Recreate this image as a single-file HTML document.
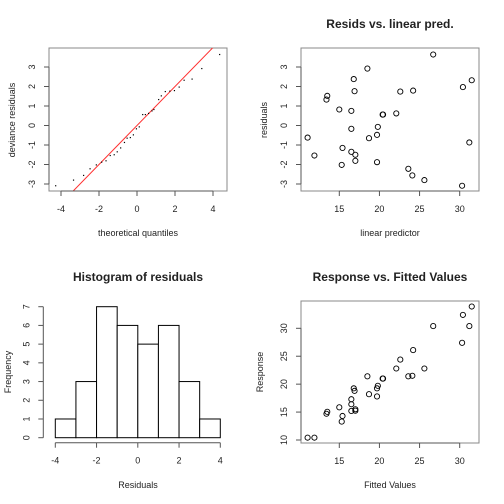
<!DOCTYPE html>
<html><head><meta charset="utf-8"><style>
html,body{margin:0;padding:0;background:#fff}
svg{display:block;font-family:"Liberation Sans",sans-serif}
</style></head><body>
<svg id="c" width="504" height="504" viewBox="0 0 504 504"></svg>
<script>
const fitted=[11.05,11.9,13.4,13.5,15.0,15.3,15.4,16.5,16.5,16.5,16.8,16.9,17.0,17.0,18.5,18.7,19.7,19.7,19.8,20.4,20.45,22.1,22.6,23.6,24.1,24.2,25.6,26.7,30.3,30.4,31.2,31.5];
const resids=[-0.62,-1.54,1.33,1.52,0.82,-2.02,-1.15,0.75,-0.17,-1.35,2.38,1.76,-1.5,-1.81,2.92,-0.65,-0.48,-1.88,-0.07,0.56,0.56,0.62,1.74,-2.22,-2.56,1.79,-2.8,3.64,-3.09,1.97,-0.87,2.32];
const response=[10.42,10.42,14.7,15.05,15.85,13.3,14.3,17.3,16.4,15.2,19.25,18.8,15.5,15.25,21.4,18.2,19.25,17.8,19.7,21.0,21.0,22.8,24.4,21.4,21.5,26.1,22.8,30.4,27.4,32.4,30.4,33.9];
const theoQ=[-4.28,-3.34,-2.81,-2.47,-2.14,-1.86,-1.63,-1.41,-1.2,-1.04,-0.86,-0.66,-0.52,-0.35,-0.19,-0.03,0.12,0.3,0.44,0.61,0.79,0.89,1.14,1.28,1.49,1.73,1.97,2.22,2.48,2.9,3.41,4.35];
const sortedRes=[-3.09,-2.8,-2.56,-2.22,-2.02,-1.88,-1.81,-1.54,-1.5,-1.35,-1.15,-0.87,-0.65,-0.62,-0.48,-0.17,-0.07,0.56,0.56,0.62,0.75,0.82,1.33,1.52,1.74,1.76,1.79,1.97,2.32,2.38,2.92,3.64];
const histBreaks=[-4,-3,-2,-1,0,1,2,3,4];
const histCounts=[1,3,7,6,5,6,3,1];
const qqXTicks=[-4,-2,0,2,4];
const resYTicks=[-3,-2,-1,0,1,2,3];
const fitXTicks=[15,20,25,30];
const respYTicks=[10,15,20,25,30];
const histXTicks=[-4,-2,0,2,4];
const histYTicks=[0,1,2,3,4,5,6,7];

const S=document.getElementById('c');const NS='http://www.w3.org/2000/svg';
function mk(t,a,p){const e=document.createElementNS(NS,t);for(const k in a)e.setAttribute(k,a[k]);(p||S).appendChild(e);return e;}
function txt(x,y,s,o){o=o||{};const e=mk('text',{x:x,y:y,'font-size':o.size||9,'text-anchor':'middle',fill:'#222','font-weight':o.bold?'bold':'normal'});if(o.rot)e.setAttribute('transform','rotate(-90 '+x+' '+y+')');e.textContent=s;return e;}
function lin(d0,d1,p0,p1){return v=>p0+(v-d0)*(p1-p0)/(d1-d0);}
function xAxis(ticks,sx,y,name){const g=mk('g',{});
 mk('line',{x1:sx(ticks[0]),x2:sx(ticks[ticks.length-1]),y1:y,y2:y,stroke:'#555'},g);
 ticks.forEach(t=>{mk('line',{x1:sx(t),x2:sx(t),y1:y,y2:y+5,stroke:'#555'},g);const e=txt(sx(t),y+21,String(t));g.appendChild(e);});}
function yAxis(ticks,sy,x,name){const g=mk('g',{});
 mk('line',{x1:x,x2:x,y1:sy(ticks[0]),y2:sy(ticks[ticks.length-1]),stroke:'#555'},g);
 ticks.forEach(t=>{mk('line',{x1:x,x2:x-5,y1:sy(t),y2:sy(t),stroke:'#555'},g);const e=txt(x-14,sy(t),String(t),{rot:1});g.appendChild(e);});}
function box(x0,y0,x1,y1,name){const r=mk('rect',{x:x0,y:y0,width:x1-x0,height:y1-y0,fill:'none',stroke:'#888'});}

// Panel 1: QQ
{const sx=lin(-4,4,61,213),sy=lin(-3,3,184,67);
box(49,48,227,191,'qq-plot-box');
const cp=mk('clipPath',{id:'cq'});mk('rect',{x:49,y:48,width:178,height:143},cp);
const ln=mk('line',{x1:sx(-5),y1:sy(-5),x2:sx(5),y2:sy(5),stroke:'#ff3030','clip-path':'url(#cq)'});

theoQ.forEach((q,i)=>{const p=mk('rect',{x:sx(q)-0.6,y:sy(sortedRes[i])-0.6,width:1.2,height:1.2,fill:'#000'});
});
xAxis(qqXTicks,sx,191,'qq-x-axis');yAxis(resYTicks,sy,49,'qq-y-axis');
const a=txt(138,236,'theoretical quantiles');
const b=txt(15,120,'deviance residuals',{rot:1});}

// Panel 2: resid vs linear pred
{const sx=lin(15,30,339.3,459.7),sy=lin(-3,3,184,67);
box(301,48,479,191,'resid-plot-box');
fitted.forEach((f,i)=>{const c=mk('circle',{cx:sx(f),cy:sy(resids[i]),r:2.6,fill:'none',stroke:'#000','stroke-width':0.9});
});
xAxis(fitXTicks,sx,191,'resid-x-axis');yAxis(resYTicks,sy,301,'resid-y-axis');
const t=txt(390,28,'Resids vs. linear pred.',{size:12,bold:1});
const a=txt(390,236,'linear predictor');
const b=txt(267,120,'residuals',{rot:1});}

// Panel 3: histogram
{const sx=lin(-4,4,55.3,220.3),sy=lin(0,7,437.7,306.7);
histCounts.forEach((c,i)=>{const r=mk('rect',{x:sx(histBreaks[i]),y:sy(c),width:sx(histBreaks[i+1])-sx(histBreaks[i]),height:sy(0)-sy(c),fill:'#fff',stroke:'#000','stroke-width':1});
});
xAxis(histXTicks,sx,442.7,'hist-x-axis');yAxis(histYTicks,sy,43.3,'hist-y-axis');
const t=txt(138,281,'Histogram of residuals',{size:12,bold:1});
const a=txt(138,488,'Residuals');
const b=txt(11,372,'Frequency',{rot:1});}

// Panel 4: response vs fitted
{const sx=lin(15,30,339.3,459.7),sy=lin(10,30,440,328.3);
box(301,301,479,443,'response-plot-box');
fitted.forEach((f,i)=>{const c=mk('circle',{cx:sx(f),cy:sy(response[i]),r:2.6,fill:'none',stroke:'#000','stroke-width':0.9});
});
xAxis(fitXTicks,sx,443,'response-x-axis');yAxis(respYTicks,sy,301,'response-y-axis');
const t=txt(390,281,'Response vs. Fitted Values',{size:12,bold:1});
const a=txt(390,488,'Fitted Values');
const b=txt(263,372,'Response',{rot:1});}
</script>
</body></html>
